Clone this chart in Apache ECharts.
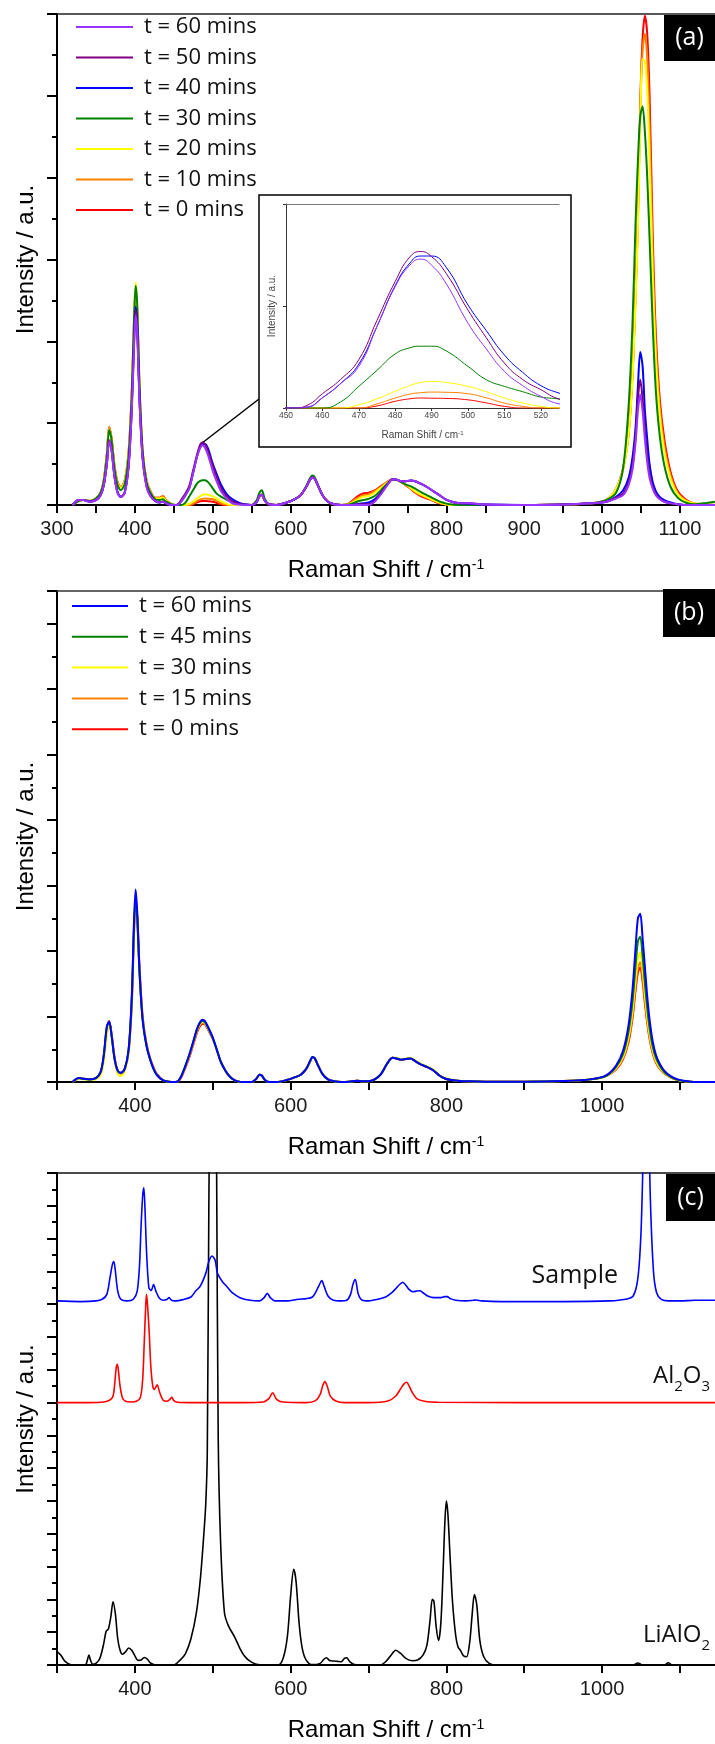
<!DOCTYPE html>
<html>
<head>
<meta charset="utf-8">
<script src="https://cdn.jsdelivr.net/npm/echarts@6/dist/echarts.min.js"></script>
<style>
  html, body { margin: 0; padding: 0; background: #fff; }
  #chart { width: 715px; height: 1744px; }
</style>
</head>
<body>
<div id="chart"></div>
<script>
// Raman shift grid (cm-1) shared by the time series of panels (a) and (b)
const ramanShift = [
  320, 328, 334, 342, 350, 356, 360, 364, 367, 370,
  374, 378, 382, 387, 392, 396, 399, 401, 403, 406,
  410, 415, 420, 426, 432, 436, 440, 447, 452, 456,
  460, 465, 470, 475, 480, 484, 487, 490, 494, 500,
  505, 510, 515, 520, 525, 532, 540, 550, 556, 560,
  563, 567, 572, 582, 595, 605, 613, 620, 625, 628,
  631, 635, 641, 648, 656, 665, 675, 685, 693, 700,
  708, 716, 724, 731, 736, 742, 748, 754, 760, 767,
  775, 783, 791, 799, 807, 815, 822, 830, 850, 900,
  950, 985, 1005, 1018, 1027, 1034, 1039, 1043, 1046, 1049,
  1052, 1055, 1058, 1061, 1065, 1069, 1074, 1080, 1088, 1097,
  1107, 1118, 1130, 1145
];

// Panel (a): intensity (a.u.) at t = 0 ... 60 min
const a_t0 = [
  0, 0.05, 0.06, 0.05, 0.08, 0.15, 0.3, 0.62, 0.95, 0.82,
  0.47, 0.27, 0.22, 0.3, 0.65, 1.35, 2.2, 2.55, 2.35, 1.4,
  0.65, 0.3, 0.17, 0.09, 0.09, 0.11, 0.06, 0.01, 0, 0,
  0, 0, 0, 0.01, 0.033, 0.045, 0.049, 0.048, 0.047, 0.04,
  0.025, 0.008, 0, 0, 0, 0, 0, 0, 0.04, 0.1,
  0.12, 0.05, 0.01, 0, 0.03, 0.07, 0.12, 0.22, 0.31, 0.34,
  0.32, 0.24, 0.12, 0.04, 0.01, 0, 0.02, 0.1, 0.14, 0.15,
  0.18, 0.23, 0.28, 0.315, 0.31, 0.28, 0.24, 0.2, 0.15, 0.11,
  0.08, 0.05, 0.02, 0.005, 0, 0, 0, 0, 0, 0,
  0.005, 0.02, 0.06, 0.2, 0.45, 0.87, 1.6, 2.6, 3.5, 4.9,
  5.7, 5.98, 5.75, 5.0, 3.3, 2.1, 1.3, 0.8, 0.4, 0.17,
  0.07, 0.02, 0.01, 0
];
const a_t10 = [
  0, 0.05, 0.06, 0.05, 0.08, 0.15, 0.3, 0.62, 0.95, 0.82,
  0.47, 0.27, 0.22, 0.3, 0.66, 1.38, 2.25, 2.6, 2.38, 1.42,
  0.65, 0.3, 0.17, 0.09, 0.09, 0.11, 0.06, 0.01, 0, 0,
  0, 0, 0, 0.02, 0.049, 0.068, 0.075, 0.078, 0.077, 0.07,
  0.05, 0.024, 0.008, 0, 0, 0, 0, 0, 0.04, 0.1,
  0.12, 0.05, 0.01, 0, 0.03, 0.07, 0.12, 0.22, 0.31, 0.34,
  0.32, 0.24, 0.12, 0.04, 0.01, 0, 0.015, 0.08, 0.12, 0.13,
  0.17, 0.22, 0.28, 0.315, 0.31, 0.28, 0.245, 0.205, 0.155, 0.12,
  0.09, 0.055, 0.025, 0.008, 0, 0, 0, 0, 0, 0,
  0.005, 0.02, 0.06, 0.2, 0.44, 0.86, 1.58, 2.55, 3.45, 4.8,
  5.55, 5.76, 5.45, 4.6, 3.05, 1.95, 1.2, 0.72, 0.36, 0.15,
  0.06, 0.02, 0.01, 0
];
const a_t20 = [
  0, 0.05, 0.06, 0.05, 0.08, 0.15, 0.3, 0.6, 0.93, 0.8,
  0.46, 0.26, 0.21, 0.29, 0.66, 1.4, 2.35, 2.72, 2.45, 1.45,
  0.66, 0.3, 0.16, 0.08, 0.08, 0.09, 0.05, 0.01, 0, 0,
  0, 0, 0.016, 0.045, 0.082, 0.11, 0.125, 0.13, 0.125, 0.106,
  0.08, 0.049, 0.025, 0.008, 0, 0, 0, 0, 0.04, 0.1,
  0.13, 0.05, 0.01, 0, 0.03, 0.07, 0.12, 0.22, 0.31, 0.34,
  0.32, 0.24, 0.12, 0.04, 0.01, 0, 0.01, 0.06, 0.1, 0.11,
  0.15, 0.21, 0.27, 0.315, 0.31, 0.28, 0.25, 0.21, 0.17, 0.13,
  0.095, 0.06, 0.03, 0.01, 0, 0, 0, 0, 0, 0,
  0.005, 0.02, 0.06, 0.2, 0.43, 0.85, 1.55, 2.5, 3.4, 4.65,
  5.45, 5.42, 5.05, 4.2, 2.8, 1.8, 1.1, 0.65, 0.32, 0.13,
  0.05, 0.02, 0.01, 0
];
const a_t30 = [
  0, 0.05, 0.06, 0.05, 0.08, 0.15, 0.29, 0.6, 0.92, 0.8,
  0.44, 0.24, 0.18, 0.26, 0.62, 1.35, 2.3, 2.68, 2.45, 1.45,
  0.65, 0.28, 0.15, 0.07, 0.06, 0.07, 0.04, 0.01, 0, 0,
  0, 0.03, 0.106, 0.185, 0.265, 0.295, 0.303, 0.303, 0.28, 0.204,
  0.139, 0.106, 0.08, 0.054, 0.044, 0.02, 0.005, 0, 0.05, 0.15,
  0.18, 0.07, 0.01, 0, 0.03, 0.07, 0.12, 0.23, 0.33, 0.36,
  0.34, 0.25, 0.12, 0.04, 0.01, 0, 0.005, 0.04, 0.06, 0.075,
  0.11, 0.18, 0.26, 0.315, 0.31, 0.28, 0.25, 0.23, 0.2, 0.16,
  0.12, 0.08, 0.045, 0.02, 0.005, 0, 0, 0, 0, 0,
  0.005, 0.02, 0.06, 0.15, 0.45, 1.2, 2.2, 3.45, 4.2, 4.75,
  4.87, 4.55, 4.0, 3.25, 2.2, 1.4, 0.85, 0.48, 0.22, 0.09,
  0.03, 0.01, 0.02, 0.04
];
const a_t40 = [
  0, 0.06, 0.06, 0.04, 0.06, 0.12, 0.24, 0.5, 0.78, 0.68,
  0.34, 0.15, 0.1, 0.16, 0.5, 1.2, 2.05, 2.42, 2.2, 1.3,
  0.58, 0.24, 0.12, 0.05, 0.03, 0.04, 0.02, 0, 0, 0.005,
  0.05, 0.12, 0.215, 0.4, 0.6, 0.71, 0.745, 0.745, 0.69, 0.505,
  0.38, 0.26, 0.175, 0.11, 0.073, 0.035, 0.01, 0, 0.03, 0.11,
  0.125, 0.05, 0.01, 0, 0.03, 0.07, 0.12, 0.22, 0.31, 0.335,
  0.32, 0.24, 0.12, 0.04, 0.01, 0, 0, 0.01, 0.02, 0.03,
  0.07, 0.15, 0.25, 0.315, 0.31, 0.29, 0.29, 0.3, 0.29, 0.26,
  0.22, 0.17, 0.12, 0.07, 0.04, 0.025, 0.02, 0.015, 0.005, 0,
  0.005, 0.02, 0.04, 0.1, 0.18, 0.33, 0.58, 0.95, 1.45, 1.87,
  1.7, 1.15, 0.8, 0.5, 0.28, 0.17, 0.1, 0.06, 0.03, 0.01,
  0, 0, 0, 0
];
const a_t50 = [
  0, 0.06, 0.06, 0.04, 0.06, 0.12, 0.24, 0.5, 0.79, 0.68,
  0.34, 0.15, 0.1, 0.15, 0.48, 1.18, 2.0, 2.38, 2.15, 1.28,
  0.57, 0.23, 0.11, 0.05, 0.03, 0.04, 0.02, 0, 0, 0.015,
  0.07, 0.14, 0.237, 0.43, 0.62, 0.74, 0.767, 0.742, 0.66, 0.48,
  0.345, 0.22, 0.14, 0.09, 0.044, 0.02, 0.005, 0, 0.03, 0.11,
  0.125, 0.05, 0.01, 0, 0.03, 0.07, 0.12, 0.22, 0.31, 0.335,
  0.32, 0.24, 0.12, 0.04, 0.01, 0, 0, 0.005, 0.01, 0.01,
  0.05, 0.14, 0.245, 0.315, 0.31, 0.29, 0.29, 0.3, 0.29, 0.26,
  0.22, 0.17, 0.12, 0.07, 0.04, 0.025, 0.02, 0.02, 0.005, 0,
  0.005, 0.02, 0.04, 0.09, 0.14, 0.27, 0.48, 0.85, 1.3, 1.53,
  1.3, 0.9, 0.6, 0.38, 0.22, 0.13, 0.08, 0.04, 0.02, 0.01,
  0, 0, 0, 0
];
const a_t60 = [
  0, 0.06, 0.06, 0.04, 0.06, 0.12, 0.24, 0.5, 0.78, 0.67,
  0.33, 0.14, 0.1, 0.15, 0.47, 1.15, 1.95, 2.32, 2.1, 1.25,
  0.56, 0.22, 0.11, 0.05, 0.03, 0.04, 0.02, 0, 0, 0.005,
  0.05, 0.12, 0.204, 0.4, 0.595, 0.7, 0.73, 0.7, 0.61, 0.416,
  0.29, 0.18, 0.11, 0.057, 0.02, 0.005, 0, 0, 0.03, 0.11,
  0.125, 0.05, 0.01, 0, 0.03, 0.07, 0.12, 0.22, 0.31, 0.335,
  0.32, 0.24, 0.12, 0.04, 0.01, 0, 0, 0, 0, 0,
  0.04, 0.13, 0.24, 0.315, 0.31, 0.29, 0.29, 0.3, 0.29, 0.26,
  0.22, 0.17, 0.12, 0.07, 0.04, 0.025, 0.02, 0.02, 0.005, 0,
  0.005, 0.02, 0.04, 0.08, 0.12, 0.24, 0.43, 0.76, 1.15, 1.35,
  1.15, 0.8, 0.52, 0.33, 0.2, 0.12, 0.07, 0.04, 0.02, 0.01,
  0, 0, 0, 0
];

// Panel (b): intensity (a.u.) at t = 0 ... 60 min
const b_t0 = [
  0, 0.05, 0.05, 0.04, 0.06, 0.14, 0.38, 0.8, 0.93, 0.74,
  0.37, 0.17, 0.13, 0.2, 0.46, 1.18, 2.3, 2.72, 2.55, 1.75,
  1.0, 0.58, 0.35, 0.17, 0.07, 0.03, 0.01, 0, 0, 0.01,
  0.08, 0.22, 0.38, 0.57, 0.76, 0.86, 0.89, 0.88, 0.8, 0.66,
  0.5, 0.32, 0.2, 0.11, 0.05, 0.01, 0, 0, 0.05, 0.11,
  0.1, 0.03, 0, 0, 0.03, 0.07, 0.11, 0.2, 0.31, 0.37,
  0.36, 0.26, 0.12, 0.04, 0.01, 0, 0.005, 0.02, 0.01, 0.01,
  0.04, 0.12, 0.28, 0.37, 0.36, 0.34, 0.35, 0.36, 0.32, 0.27,
  0.23, 0.18, 0.1, 0.05, 0.03, 0.02, 0.01, 0.01, 0.005, 0.005,
  0.015, 0.04, 0.09, 0.19, 0.35, 0.61, 0.97, 1.4, 1.67, 1.75,
  1.54, 1.2, 0.9, 0.66, 0.44, 0.3, 0.2, 0.13, 0.07, 0.03,
  0.01, 0, 0, 0
];
const b_t15 = [
  0, 0.05, 0.05, 0.04, 0.06, 0.14, 0.38, 0.8, 0.92, 0.73,
  0.36, 0.17, 0.13, 0.2, 0.48, 1.22, 2.35, 2.74, 2.52, 1.7,
  0.98, 0.57, 0.34, 0.16, 0.06, 0.03, 0.01, 0, 0, 0.015,
  0.09, 0.23, 0.4, 0.59, 0.78, 0.88, 0.9, 0.89, 0.81, 0.66,
  0.5, 0.32, 0.2, 0.11, 0.05, 0.01, 0, 0, 0.05, 0.11,
  0.1, 0.03, 0, 0, 0.03, 0.07, 0.11, 0.2, 0.31, 0.37,
  0.36, 0.26, 0.12, 0.04, 0.01, 0, 0.005, 0.02, 0.01, 0.01,
  0.04, 0.12, 0.28, 0.37, 0.36, 0.34, 0.35, 0.36, 0.32, 0.27,
  0.23, 0.18, 0.1, 0.05, 0.03, 0.02, 0.01, 0.01, 0.005, 0.005,
  0.015, 0.04, 0.09, 0.2, 0.36, 0.64, 1.01, 1.46, 1.74, 1.83,
  1.61, 1.25, 0.93, 0.68, 0.45, 0.31, 0.21, 0.13, 0.07, 0.03,
  0.01, 0, 0, 0
];
const b_t30 = [
  0, 0.05, 0.04, 0.03, 0.04, 0.1, 0.3, 0.7, 0.88, 0.7,
  0.32, 0.12, 0.09, 0.16, 0.46, 1.22, 2.35, 2.75, 2.5, 1.66,
  0.96, 0.56, 0.34, 0.16, 0.06, 0.03, 0.01, 0, 0, 0.02,
  0.1, 0.24, 0.41, 0.6, 0.8, 0.9, 0.92, 0.9, 0.82, 0.67,
  0.5, 0.32, 0.2, 0.11, 0.05, 0.01, 0, 0, 0.05, 0.11,
  0.1, 0.03, 0, 0, 0.03, 0.07, 0.11, 0.2, 0.31, 0.37,
  0.36, 0.26, 0.12, 0.04, 0.01, 0, 0.005, 0.02, 0.01, 0.01,
  0.04, 0.12, 0.28, 0.37, 0.37, 0.35, 0.36, 0.37, 0.33, 0.28,
  0.24, 0.19, 0.11, 0.06, 0.035, 0.02, 0.015, 0.01, 0.005, 0.005,
  0.015, 0.04, 0.09, 0.21, 0.39, 0.69, 1.09, 1.58, 1.88, 1.98,
  1.74, 1.35, 1.0, 0.73, 0.49, 0.33, 0.22, 0.14, 0.075, 0.035,
  0.01, 0, 0, 0
];
const b_t45 = [
  0, 0.06, 0.05, 0.04, 0.06, 0.15, 0.4, 0.84, 0.92, 0.72,
  0.35, 0.17, 0.14, 0.2, 0.5, 1.25, 2.4, 2.78, 2.5, 1.65,
  0.95, 0.55, 0.33, 0.15, 0.06, 0.03, 0.01, 0, 0, 0.02,
  0.1, 0.25, 0.42, 0.61, 0.81, 0.91, 0.93, 0.91, 0.83, 0.67,
  0.5, 0.32, 0.2, 0.11, 0.05, 0.01, 0, 0, 0.05, 0.11,
  0.1, 0.03, 0, 0, 0.03, 0.07, 0.11, 0.2, 0.32, 0.38,
  0.36, 0.26, 0.12, 0.04, 0.01, 0, 0.005, 0.02, 0.01, 0.01,
  0.04, 0.12, 0.28, 0.37, 0.36, 0.34, 0.35, 0.36, 0.32, 0.27,
  0.23, 0.18, 0.1, 0.05, 0.03, 0.02, 0.01, 0.01, 0.005, 0.005,
  0.015, 0.04, 0.09, 0.23, 0.43, 0.77, 1.22, 1.77, 2.15, 2.22,
  1.92, 1.5, 1.12, 0.82, 0.54, 0.37, 0.25, 0.15, 0.08, 0.035,
  0.01, 0, 0, 0
];
const b_t60 = [
  0, 0.06, 0.05, 0.04, 0.06, 0.15, 0.4, 0.85, 0.92, 0.72,
  0.35, 0.17, 0.14, 0.2, 0.5, 1.3, 2.5, 2.94, 2.6, 1.7,
  0.95, 0.55, 0.33, 0.15, 0.06, 0.03, 0.01, 0, 0, 0.02,
  0.1, 0.25, 0.42, 0.62, 0.82, 0.92, 0.95, 0.93, 0.84, 0.68,
  0.5, 0.32, 0.2, 0.11, 0.05, 0.01, 0, 0, 0.05, 0.11,
  0.1, 0.03, 0, 0, 0.03, 0.07, 0.11, 0.2, 0.32, 0.38,
  0.36, 0.26, 0.12, 0.04, 0.01, 0, 0.005, 0.02, 0.01, 0.01,
  0.04, 0.12, 0.28, 0.37, 0.36, 0.34, 0.35, 0.36, 0.32, 0.27,
  0.23, 0.18, 0.1, 0.05, 0.03, 0.02, 0.01, 0.01, 0.005, 0.005,
  0.015, 0.04, 0.1, 0.25, 0.48, 0.87, 1.4, 2.05, 2.5, 2.57,
  2.2, 1.75, 1.3, 0.95, 0.62, 0.42, 0.28, 0.17, 0.09, 0.04,
  0.015, 0, 0, 0
];

// Panel (c): reference spectra, stacked with vertical offsets
const lialo2Shift = [
  300, 305, 310, 318, 330, 337, 339, 341, 343, 346,
  350, 355, 360, 363, 366, 369, 372, 375, 378, 381,
  384, 388, 392, 396, 400, 404, 408, 412, 416, 420,
  428, 440, 450, 458, 465, 472, 479, 484, 488, 491,
  493, 495, 497, 500, 503, 505, 507, 510, 515, 520,
  528, 535, 540, 546, 555, 570, 585, 591, 596, 600,
  604, 607, 611, 615, 620, 628, 638, 643, 646, 650,
  655, 660, 665, 669, 672, 676, 682, 700, 715, 722,
  729, 735, 741, 748, 756, 763, 770, 775, 779, 782,
  784, 787, 790, 793, 796, 798, 800, 802, 805, 808,
  812, 815, 818, 822, 826, 830, 833, 836, 839, 843,
  848, 855, 865, 900, 1000, 1040, 1046, 1052, 1080, 1085,
  1090, 1145
];
const lialo2Intensity = [
  0.41, 0.3, 0.12, 0.01, 0, 0.02, 0.15, 0.3, 0.15, 0.02,
  0.05, 0.2, 0.65, 1.02, 1.1, 1.45, 1.93, 1.55, 0.8, 0.45,
  0.33, 0.4, 0.52, 0.45, 0.28, 0.14, 0.15, 0.23, 0.18, 0.06,
  0, 0, 0, 0.15, 0.35, 0.8, 1.6, 2.6, 3.8, 4.9,
  6.5, 14, 19, 22, 20, 15, 7, 3.8, 1.6, 1.2,
  0.86, 0.5, 0.3, 0.15, 0.03, 0, 0.01, 0.25, 0.9, 2.1,
  2.92, 2.55, 1.25, 0.5, 0.15, 0.01, 0.05, 0.18, 0.22, 0.14,
  0.12, 0.11, 0.1, 0.2, 0.22, 0.1, 0.01, 0, 0, 0.1,
  0.3, 0.45, 0.36, 0.2, 0.13, 0.15, 0.3, 0.6, 1.35, 2.0,
  1.95, 1.15, 0.75, 1.3, 3.0, 4.3, 5.0, 4.6, 3.2, 1.9,
  0.9, 0.55, 0.45, 0.28, 0.25, 0.7, 1.5, 2.15, 1.85, 0.75,
  0.25, 0.05, 0, 0, 0, 0, 0.06, 0, 0, 0.07,
  0, 0
];
const aluminaShift = [
  300, 340, 360, 368, 372, 374, 376, 377.5, 379, 381,
  384, 388, 395, 402, 407, 410, 412, 414, 415, 416.5,
  418.5, 420.5, 423, 425, 428.5, 432, 436, 441, 445, 447.5,
  450, 455, 470, 540, 565, 572, 577, 582, 590, 620,
  632, 638, 641, 644, 647, 651, 658, 670, 700, 725,
  735, 742, 746, 749, 752, 756, 762, 772, 790, 900,
  1145
];
const aluminaIntensity = [
  8.0, 8.0, 8.02, 8.08, 8.2, 8.55, 9.05, 9.17, 8.95, 8.5,
  8.15, 8.04, 8.02, 8.04, 8.15, 8.7, 9.8, 11.0, 11.3, 10.9,
  10.1, 9.1, 8.5, 8.4, 8.54, 8.3, 8.08, 8.04, 8.1, 8.16,
  8.06, 8.01, 8.0, 8.0, 8.02, 8.12, 8.3, 8.1, 8.02, 8.0,
  8.06, 8.25, 8.5, 8.64, 8.5, 8.2, 8.05, 8.0, 8.0, 8.05,
  8.2, 8.45, 8.58, 8.62, 8.52, 8.32, 8.12, 8.04, 8.01, 8.0,
  8.0
];
const sampleShift = [
  300, 330, 350, 358, 364, 368, 371, 373, 375, 378,
  382, 390, 398, 403, 406, 408, 410, 411.5, 413, 415,
  418, 421, 424, 427, 431, 436, 441, 444, 447, 452,
  462, 472, 478, 484, 491, 495, 499, 503, 506, 512,
  518, 525, 535, 548, 560, 566, 570, 574, 580, 595,
  610, 620, 628, 633, 637, 640, 643, 648, 655, 665,
  672, 677, 680, 683, 687, 692, 700, 712, 722, 730,
  736, 740, 744, 748, 752, 757, 762, 766, 770, 776,
  784, 792, 798, 801, 805, 812, 825, 835, 838, 845,
  870, 950, 1010, 1030, 1040, 1046, 1050, 1053, 1056, 1059,
  1062, 1066, 1070, 1076, 1085, 1100, 1120, 1145
];
const sampleIntensity = [
  11.1, 11.08, 11.1, 11.15, 11.3, 11.8, 12.2, 12.3, 12.0, 11.4,
  11.15, 11.1, 11.15, 11.4, 12.2, 13.4, 14.3, 14.55, 13.9, 12.6,
  11.5, 11.42, 11.6, 11.4, 11.2, 11.12, 11.14, 11.2, 11.12, 11.1,
  11.14, 11.22, 11.4, 11.55, 11.94, 12.3, 12.47, 12.35, 11.95, 11.7,
  11.54, 11.35, 11.2, 11.12, 11.1, 11.2, 11.33, 11.2, 11.1, 11.1,
  11.15, 11.17, 11.22, 11.4, 11.6, 11.72, 11.55, 11.25, 11.12, 11.1,
  11.12, 11.3, 11.6, 11.75, 11.3, 11.12, 11.1, 11.15, 11.22, 11.35,
  11.5, 11.6, 11.67, 11.58, 11.45, 11.38, 11.4, 11.41, 11.35, 11.25,
  11.2, 11.2, 11.23, 11.23, 11.17, 11.12, 11.1, 11.12, 11.13, 11.1,
  11.08, 11.08, 11.1, 11.15, 11.25, 11.8, 13.2, 15.8, 18.5, 17.5,
  14.2, 12.0, 11.35, 11.15, 11.1, 11.1, 11.12, 11.12
];

// Axis tick positions
const ticksA = [300, 350, 400, 450, 500, 550, 600, 650, 700, 750, 800, 850, 900, 950, 1000, 1050, 1100];
const labelsA = [300, 400, 500, 600, 700, 800, 900, 1000, 1100];
const ticksBC = [300, 400, 500, 600, 700, 800, 900, 1000, 1100];
const labelsBC = [400, 600, 800, 1000];
const ticksInset = [450, 460, 470, 480, 490, 500, 510, 520];

const FONT_TEXT = "'Open Sans', 'Noto Sans', sans-serif";
const FONT_AXIS = "'Liberation Sans', Arial, sans-serif";

const pairs = (xs, ys) => xs.map((x, i) => [x, ys[i]]);
const plain = (v) => String(v);

function spectrum(name, color, xs, ys, xi, yi, width, z, smooth) {
  return {
    type: 'line', name, color, data: pairs(xs, ys),
    xAxisIndex: xi, yAxisIndex: yi,
    showSymbol: false, symbol: 'none',
    smooth,
    lineStyle: { width, color },
    z, silent: true, animation: false
  };
}

const shiftName = {
  rich: {
    n: { fontFamily: FONT_AXIS, fontSize: 24, color: '#000', lineHeight: 24, verticalAlign: 'bottom' },
    p: { fontFamily: FONT_AXIS, fontSize: 14, color: '#000', lineHeight: 14, verticalAlign: 'top' }
  }
};

function bottomAxis(gridIndex, ticks, labels) {
  return {
    type: 'value', gridIndex, position: 'bottom', min: 300, max: 1145,
    axisLine: { onZero: false, lineStyle: { color: '#000', width: 2 } },
    axisTick: { customValues: ticks, length: 8, lineStyle: { color: '#000', width: 2 } },
    axisLabel: { customValues: labels, formatter: plain, margin: 14, color: '#1a1a1a', fontFamily: FONT_AXIS, fontSize: 20 },
    splitLine: { show: false },
    name: '{n|Raman Shift / cm}{p|-1}', nameLocation: 'middle', nameGap: 53,
    nameTextStyle: shiftName
  };
}
function topLine(gridIndex, min, max, color, width, z) {
  return {
    type: 'value', gridIndex, position: 'top', min, max, z,
    axisLine: { onZero: false, lineStyle: { color, width } },
    axisTick: { show: false }, axisLabel: { show: false }, splitLine: { show: false }
  };
}
function leftAxis(gridIndex, max) {
  return {
    type: 'value', gridIndex, min: 0, max, interval: 1,
    axisLine: { onZero: false, lineStyle: { color: '#000', width: 2 } },
    axisTick: { length: 10, lineStyle: { color: '#000', width: 2 } },
    minorTick: { show: true, splitNumber: 2, length: 5, lineStyle: { color: '#000', width: 2 } },
    axisLabel: { show: false }, splitLine: { show: false }, minorSplitLine: { show: false },
    name: 'Intensity / a.u.', nameLocation: 'middle', nameGap: 19,
    nameTextStyle: { fontFamily: FONT_AXIS, fontSize: 24, color: '#000' }
  };
}

const seriesA = [
  ['t = 0 mins', '#FF0000', a_t0],
  ['t = 10 mins', '#FF8000', a_t10],
  ['t = 20 mins', '#FFFF00', a_t20],
  ['t = 30 mins', '#008000', a_t30],
  ['t = 40 mins', '#0000FF', a_t40],
  ['t = 50 mins', '#800080', a_t50],
  ['t = 60 mins', '#9933FF', a_t60]
];
const seriesB = [
  ['b:t = 0 mins', '#FF0000', b_t0],
  ['b:t = 15 mins', '#FF8000', b_t15],
  ['b:t = 30 mins', '#FFFF00', b_t30],
  ['b:t = 45 mins', '#008000', b_t45],
  ['b:t = 60 mins', '#0000FF', b_t60]
];

const series = [];
seriesA.forEach(([n, c, d]) => series.push(spectrum(n, c, ramanShift, d, 0, 0, 2, 2, 0.3)));
seriesA.forEach(([n, c, d]) => series.push(spectrum('inset:' + n, c, ramanShift, d, 3, 3, 1, 10, 0.5)));
seriesB.forEach(([n, c, d]) => series.push(spectrum(n, c, ramanShift, d, 1, 1, 2, 2, 0.3)));
series.push(spectrum('LiAlO2', '#000000', lialo2Shift, lialo2Intensity, 2, 2, 1.6, 2, 0.3));
series.push(spectrum('Al2O3', '#FF0000', aluminaShift, aluminaIntensity, 2, 2, 1.6, 2, 0.3));
series.push(spectrum('Sample', '#0000FF', sampleShift, sampleIntensity, 2, 2, 1.6, 2, 0.3));

function tag(id, x, y, w, h, label) {
  return [
    { id: id + 'Box', type: 'rect', z: 20, shape: { x, y, width: w, height: h }, style: { fill: '#000' } },
    { id: id + 'Text', type: 'text', z: 21, x: x + w / 2, y: y + h / 2,
      style: { text: label, fill: '#fff', fontFamily: FONT_TEXT, fontSize: 25, align: 'center', verticalAlign: 'middle' } }
  ];
}

const subRich = {
  n: { fontFamily: FONT_TEXT, fontSize: 24, fill: '#111', lineHeight: 24, verticalAlign: 'top' },
  s: { fontFamily: FONT_TEXT, fontSize: 15, fill: '#111', lineHeight: 46 }
};

const option = {
  animation: false,
  backgroundColor: '#fff',
  grid: [
    { left: 57, top: 14, width: 658, height: 491 },
    { left: 57, top: 591, width: 658, height: 491 },
    { left: 57, top: 1173, width: 658, height: 492 },
    { left: 286, top: 204, width: 273, height: 204, z: 10 }
  ],
  xAxis: [
    bottomAxis(0, ticksA, labelsA),
    bottomAxis(1, ticksBC, labelsBC),
    bottomAxis(2, ticksBC, labelsBC),
    {
      type: 'value', gridIndex: 3, position: 'bottom', min: 450, max: 525, z: 10,
      axisLine: { onZero: false, lineStyle: { color: '#333', width: 1 } },
      axisTick: { customValues: ticksInset, length: 3, lineStyle: { color: '#333', width: 1 } },
      axisLabel: { customValues: ticksInset, formatter: plain, margin: 3, color: '#444', fontFamily: FONT_AXIS, fontSize: 8.5 },
      splitLine: { show: false },
      name: '{n|Raman Shift / cm}{p|-1}', nameLocation: 'middle', nameGap: 22,
      nameTextStyle: { rich: {
        n: { fontFamily: FONT_AXIS, fontSize: 10, color: '#444', lineHeight: 10, verticalAlign: 'bottom' },
        p: { fontFamily: FONT_AXIS, fontSize: 6, color: '#444', lineHeight: 6, verticalAlign: 'top' }
      } }
    },
    topLine(0, 300, 1145, '#222', 1.5, 0),
    topLine(1, 300, 1145, '#333', 1.5, 0),
    topLine(2, 300, 1145, '#111', 1.5, 0),
    topLine(3, 450, 525, '#777', 1, 10)
  ],
  yAxis: [
    leftAxis(0, 6),
    leftAxis(1, 7.5),
    leftAxis(2, 15),
    {
      type: 'value', gridIndex: 3, min: 0, max: 1, interval: 0.5, z: 10,
      axisLine: { onZero: false, lineStyle: { color: '#333', width: 1 } },
      axisTick: { length: 3, lineStyle: { color: '#333', width: 1 } },
      axisLabel: { show: false }, splitLine: { show: false },
      name: 'Intensity / a.u.', nameLocation: 'middle', nameGap: 9,
      nameTextStyle: { fontFamily: FONT_AXIS, fontSize: 10, color: '#444' }
    }
  ],
  legend: [
    {
      data: ['t = 60 mins', 't = 50 mins', 't = 40 mins', 't = 30 mins', 't = 20 mins', 't = 10 mins', 't = 0 mins'],
      orient: 'vertical', left: 76, top: 16, padding: 0,
      icon: 'rect', itemWidth: 57, itemHeight: 2, itemGap: 8.5,
      selectedMode: false,
      textStyle: { fontFamily: FONT_TEXT, fontSize: 22, lineHeight: 22, color: '#111', padding: [0, 0, 0, 6] }
    },
    {
      data: ['b:t = 60 mins', 'b:t = 45 mins', 'b:t = 30 mins', 'b:t = 15 mins', 'b:t = 0 mins'],
      formatter: (name) => name.replace(/^b:/, ''),
      orient: 'vertical', left: 72, top: 595, padding: 0,
      icon: 'rect', itemWidth: 56, itemHeight: 2, itemGap: 8.8,
      selectedMode: false,
      textStyle: { fontFamily: FONT_TEXT, fontSize: 22, lineHeight: 22, color: '#111', padding: [0, 0, 0, 6] }
    }
  ],
  graphic: {
    elements: [
      { id: 'insetFrame', type: 'rect', z: 5, shape: { x: 259, y: 195, width: 312, height: 252 },
        style: { fill: '#fff', stroke: '#000', lineWidth: 1.5 } },
      ...tag('tagA', 664, 15, 51, 46, '(a)'),
      ...tag('tagB', 663, 589, 52, 48, '(b)'),
      ...tag('tagC', 666, 1174, 49, 47, '(c)'),
      { id: 'labelSample', type: 'text', z: 6, x: 618, y: 1276,
        style: { text: 'Sample', fill: '#111', fontFamily: FONT_TEXT, fontSize: 25, align: 'right', verticalAlign: 'middle' } },
      { id: 'labelAlumina', type: 'text', z: 6, x: 653, y: 1364,
        style: { text: '{n|Al}{s|2}{n|O}{s|3}', rich: subRich, align: 'left', verticalAlign: 'top' } },
      { id: 'labelLiAlO2', type: 'text', z: 6, x: 643, y: 1623,
        style: { text: '{n|LiAlO}{s|2}', rich: subRich, align: 'left', verticalAlign: 'top' } }
    ]
  },
  series
};

const chart = echarts.init(document.getElementById('chart'), null, { renderer: 'canvas' });
chart.setOption(option);

// Leader line from the 488 cm-1 band in (a) to the magnified view
const apex = chart.convertToPixel({ xAxisIndex: 0, yAxisIndex: 0 }, [488, 0.77]);
chart.setOption({
  graphic: {
    elements: [
      { id: 'leader', type: 'line', z: 6,
        shape: { x1: apex[0], y1: apex[1], x2: 259, y2: 399 },
        style: { stroke: '#000', lineWidth: 1.5 } }
    ]
  }
});
</script>
</body>
</html>
